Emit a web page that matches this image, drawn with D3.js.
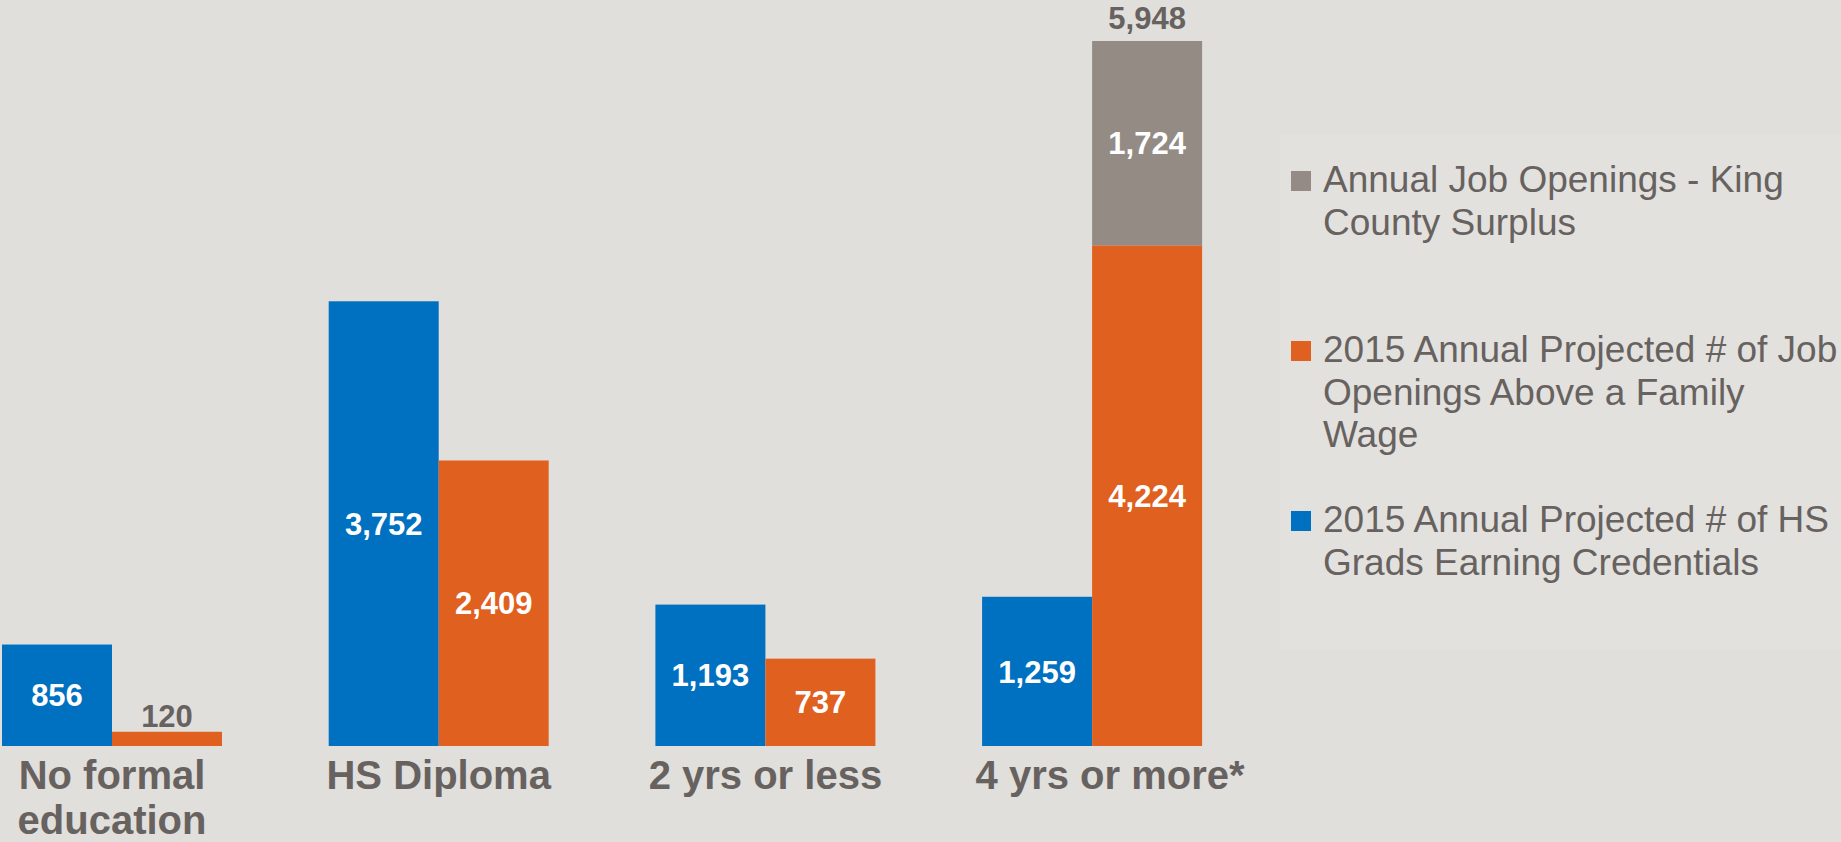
<!DOCTYPE html>
<html>
<head>
<meta charset="utf-8">
<script src="https://cdn.jsdelivr.net/npm/d3@7"></script>
<style>
  html, body { margin: 0; padding: 0; background: #e0dfdb; }
  svg { display: block; }
  text { font-family: "Liberation Sans", Arial, sans-serif; }
</style>
</head>
<body>
<svg id="chart" width="1841" height="842"></svg>
<script>
// ---- Data ----
const categories = ["No formal\neducation", "HS Diploma", "2 yrs or less", "4 yrs or more*"];
const hsGrads = [856, 3752, 1193, 1259];          // 2015 Annual Projected # of HS Grads Earning Credentials
const jobOpenings = [120, 2409, 737, 4224];        // 2015 Annual Projected # of Job Openings Above a Family Wage
const surplus = [0, 0, 0, 1724];                   // Annual Job Openings - King County Surplus
const legendLabels = [
  ["Annual Job Openings - King", "County Surplus"],
  ["2015 Annual Projected # of Job", "Openings Above a Family", "Wage"],
  ["2015 Annual Projected # of HS", "Grads Earning Credentials"]
];

// ---- Styles ----
const colBlue = "#0070c0", colOrange = "#e06020", colGrey = "#948b85";
const textGrey = "#676260";
const fmt = d3.format(",");

const svg = d3.select("#chart");
const baseline = 746, topY = 41;
const yMax = 5948;

const y = d3.scaleLinear().domain([0, yMax]).range([baseline, topY]);

const step = 326.7;
const x0 = d3.scaleBand().domain(categories)
  .range([112 - step / 2, 112 - step / 2 + step * categories.length]).padding(0);
const groupW = 220;
const x1 = d3.scaleBand().domain(["grads", "jobs"])
  .range([(x0.bandwidth() - groupW) / 2, (x0.bandwidth() + groupW) / 2]).padding(0);

// legend background box (faint)
svg.append("rect").attr("x", 1280).attr("y", 135).attr("width", 561).attr("height", 515)
  .attr("fill", "#e2e1de");

const g = svg.append("g");

const rows = categories.map((c, i) => ({ c, grads: hsGrads[i], jobs: jobOpenings[i], surplus: surplus[i] }));

// bars
rows.forEach(r => {
  const gx = x0(r.c);
  g.append("rect")
    .attr("x", gx + x1("grads")).attr("width", x1.bandwidth())
    .attr("y", y(r.grads)).attr("height", y(0) - y(r.grads))
    .attr("fill", colBlue);
  g.append("rect")
    .attr("x", gx + x1("jobs")).attr("width", x1.bandwidth())
    .attr("y", y(r.jobs)).attr("height", y(0) - y(r.jobs))
    .attr("fill", colOrange);
  if (r.surplus > 0) {
    g.append("rect")
      .attr("x", gx + x1("jobs")).attr("width", x1.bandwidth())
      .attr("y", y(r.jobs + r.surplus)).attr("height", y(r.jobs) - y(r.jobs + r.surplus))
      .attr("fill", colGrey);
  }
});

// value labels
function valueLabel(cx, v0, v1) {
  const h = y(v0) - y(v1);
  if (h < 40) {
    g.append("text").attr("x", cx).attr("y", y(v1) - 5)
      .attr("text-anchor", "middle").attr("font-size", 31).attr("font-weight", "bold")
      .attr("fill", textGrey).text(fmt(v1 - v0));
  } else {
    g.append("text").attr("x", cx).attr("y", (y(v0) + y(v1)) / 2)
      .attr("dy", "0.36em")
      .attr("text-anchor", "middle").attr("font-size", 31).attr("font-weight", "bold")
      .attr("fill", "#ffffff").text(fmt(v1 - v0));
  }
}
rows.forEach(r => {
  const gx = x0(r.c);
  const cb = gx + x1("grads") + x1.bandwidth() / 2;
  const co = gx + x1("jobs") + x1.bandwidth() / 2;
  valueLabel(cb, 0, r.grads);
  valueLabel(co, 0, r.jobs);
  if (r.surplus > 0) {
    valueLabel(co, r.jobs, r.jobs + r.surplus);
    g.append("text").attr("x", co).attr("y", y(r.jobs + r.surplus) - 12)
      .attr("text-anchor", "middle").attr("font-size", 31).attr("font-weight", "bold")
      .attr("fill", textGrey).text(fmt(r.jobs + r.surplus));
  }
});

// category axis labels
rows.forEach((r, i) => {
  const shift = i === rows.length - 1 ? 18 : 0;
  const cx = x0(r.c) + x0.bandwidth() / 2 + shift;
  const t = g.append("text")
    .attr("text-anchor", "middle").attr("font-size", 40).attr("font-weight", "bold")
    .attr("fill", textGrey);
  r.c.split("\n").forEach((line, j) => {
    t.append("tspan").attr("x", cx).attr("y", 789 + j * 45).text(line);
  });
});

// legend
const legendColors = [colGrey, colOrange, colBlue];
const legendBaselines = [192, 362, 532];
const lineH = 42.7;
const leg = svg.append("g");
legendLabels.forEach((lines, i) => {
  const by = legendBaselines[i];
  leg.append("rect").attr("x", 1291).attr("y", by - 21).attr("width", 20).attr("height", 20)
    .attr("fill", legendColors[i]);
  const t = leg.append("text").attr("font-size", 37).attr("fill", textGrey);
  lines.forEach((l, j) => {
    t.append("tspan").attr("x", 1323).attr("y", by + j * lineH).text(l);
  });
});
</script>
</body>
</html>
